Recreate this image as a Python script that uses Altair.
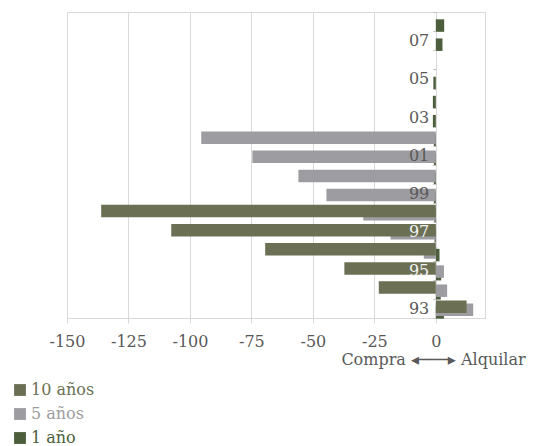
import altair as alt
import pandas as pd

# Categories (years), bottom to top
years = ["93", "94", "95", "96", "97", "98", "99", "00", "01", "02",
         "03", "04", "05", "06", "07", "08"]

# Series values (index-aligned with years; series end early)
diez_anos = [12.5, -23.2, -37.2, -69.4, -107.6, -136.1]
cinco_anos = [15.2, 4.6, 3.3, -4.9, -18.4, -29.5, -44.5, -55.9, -74.6, -95.4]
un_ano = [3.3, 2.0, 2.2, 1.5, -0.5, -0.6, -0.8, -0.8, -0.8, -0.8,
          -1.2, -1.2, -1.0, 0.0, 2.7, 3.4]

series_names = ["10 años", "5 años", "1 año"]
series_colors = ["#6b7054", "#9c9ca1", "#4c5e3c"]
x_ticks = [-150, -125, -100, -75, -50, -25, 0]
x_title = "Compra ◂───▸ Alquilar"

rows = []
for name, vals in zip(series_names, [diez_anos, cinco_anos, un_ano]):
    for yr, v in zip(years, vals):
        rows.append({"year": yr, "series": name, "value": v})
df = pd.DataFrame(rows)

FONT = "DejaVu Serif"
TXT = "#595959"
GRID = "#d9d9d9"

label_color_expr = (
    "datum.value === '" + series_names[0] + "' ? '" + series_colors[0] + "' : "
    "datum.value === '" + series_names[1] + "' ? '" + series_colors[1] + "' : '"
    + series_colors[2] + "'"
)

color = alt.Color(
    "series:N",
    scale=alt.Scale(domain=series_names, range=series_colors),
    legend=alt.Legend(
        title=None, orient="none", legendX=-55, legendY=370,
        symbolType="square", symbolSize=140, symbolStrokeWidth=0,
        labelFont=FONT, labelFontSize=16, labelOffset=3,
        rowPadding=8, padding=0,
        labelColor={"expr": label_color_expr},
    ),
)

x = alt.X(
    "value:Q",
    scale=alt.Scale(domain=[-150, 20], nice=False, zero=False),
    axis=alt.Axis(
        values=x_ticks, grid=True, gridColor=GRID, domainColor=GRID,
        tickColor=GRID, tickSize=5, labelFont=FONT, labelFontSize=16,
        labelColor=TXT, labelPadding=10, labelOverlap=False, labelFlush=False,
        labelExpr="datum.value < 0 ? '-' + abs(datum.value) : '' + datum.value",
        title=x_title,
        titleX=366, titleY=46, titleAlign="center",
        titleBaseline="alphabetic", titleFont=FONT, titleFontSize=16,
        titleFontWeight="normal", titleColor=TXT,
    ),
)

y = alt.Y(
    "year:N",
    sort=list(reversed(years)),
    scale=alt.Scale(domain=list(reversed(years)), paddingInner=0, paddingOuter=0),
    axis=alt.Axis(
        offset=-368.8, tickBand="extent", tickSize=3, tickColor="#bfbfbf",
        labelPadding=4, labelFont=FONT, labelFontSize=16,
        labelColor={"expr": "(datum.value === '95' || datum.value === '97') ? '#f2f2f2' : '#595959'"},
        labelExpr="toNumber(datum.value) % 2 == 1 ? datum.value : ''",
        domain=False, grid=False, title=None, zindex=1,
    ),
)

base = alt.Chart(df)
offsets = {"1 año": 4.0, "5 años": 1.4, "10 años": -1.7}
layers = []
for name in ["1 año", "5 años", "10 años"]:
    layers.append(
        base.transform_filter(alt.datum.series == name)
        .mark_bar(height=12.5, yOffset=offsets[name])
        .encode(x=x, y=y, color=color)
    )

chart = alt.layer(*layers).properties(
    width=418, height=306,
    autosize=alt.AutoSizeParams(type="none"),
    padding={"left": 59, "top": 4, "right": 46, "bottom": 128},
).configure_view(stroke=GRID)

chart.save("out.html", embed_options={"renderer": "svg", "actions": False})
